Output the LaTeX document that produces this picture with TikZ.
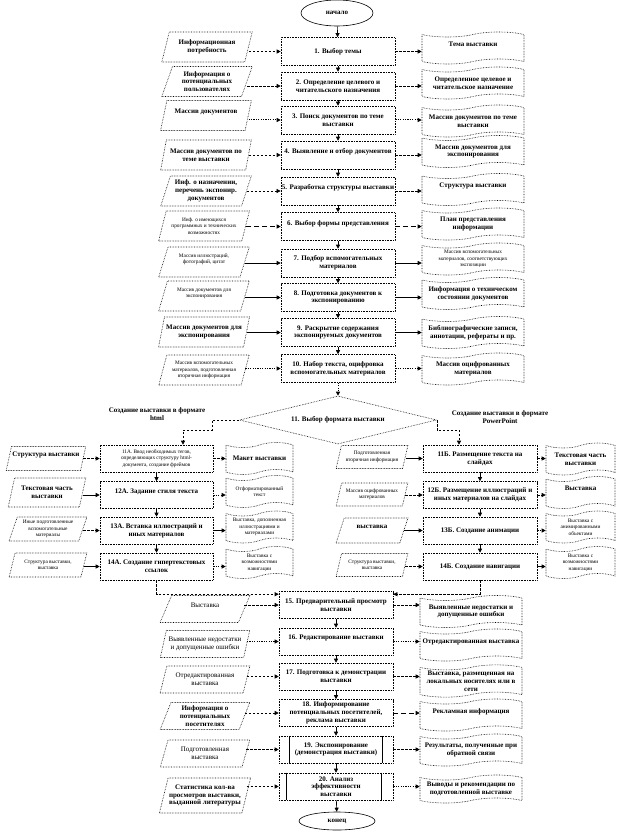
\documentclass[tikz,border=0pt]{standalone}
\usepackage{fontspec}
\setmainfont{Liberation Serif}
\usetikzlibrary{shapes.geometric,shapes.symbols,arrows.meta}
\tikzset{
  every node/.style={font=\bfseries\fontsize{7}{7.8}\selectfont},
  sm/.style={font=\fontsize{5.3}{6.4}\selectfont},
  shp/.style={draw, densely dotted, line width=0.6pt},
  proc/.style={shp, rectangle, minimum width=114pt, minimum height=28pt, inner sep=1pt, align=center},
  inp/.style={shp, trapezium, trapezium left angle=70, trapezium right angle=110, trapezium stretches=true, minimum width=91pt, minimum height=30pt, inner sep=1pt, align=center},
  docu/.style={shp, tape, tape bend top=in and out, tape bend bottom=in and out, tape bend height=5pt, minimum width=102pt, minimum height=32pt, inner sep=1pt, align=center},
  term/.style={draw, ellipse, line width=0.6pt, inner sep=1pt},
  arr/.style={-{Triangle[length=4pt,width=4pt]}, line width=0.6pt},
  cdash/.style={arr, dash pattern=on 2.5pt off 1.5pt},
  cdot/.style={arr, dash pattern=on 1.2pt off 1.2pt, line width=1pt},
  clong/.style={arr, dash pattern=on 5pt off 3pt},
  csol/.style={arr},
}
\begin{document}
\begin{tikzpicture}[x=1pt,y=-1pt]
\fill[white] (0,0) rectangle (617,832);
\useasboundingbox (0,0) rectangle (617,832);
% terminal
\node[term, minimum width=72pt, minimum height=26pt] (start) at (337,13) {начало};
% central column 1-10
\node[proc] (p1) at (338,51.5) {1. Выбор темы};
\node[proc] (p2) at (338,86) {2. Определение целевого и\\читательского назначения};
\node[proc] (p3) at (338,120) {3. Поиск документов по теме\\выставки};
\node[proc] (p4) at (338,155) {4. Выявление и отбор документов\\\mbox{}};
\node[proc] (p5) at (338,191) {5. Разработка структуры выставки\\\mbox{}};
\node[proc] (p6) at (338,226.5) {6. Выбор формы представления\\\mbox{}};
\node[proc] (p7) at (338,263) {7. Подбор вспомогательных\\материалов};
\node[proc] (p8) at (338,297.5) {8. Подготовка документов к\\экспонированию};
\node[proc] (p9) at (338,332.5) {9. Раскрытие содержания\\экспонируемых документов};
\node[proc] (p10) at (338,368.5) {10. Набор текста, оцифровка\\вспомогательных материалов};
% inputs 1-10
\node[inp] (i1) at (207,47) {Информационная\\потребность};
\node[inp] (i2) at (207,81.5) {Информация о\\потенциальных\\пользователях};
\node[inp] (i3) at (206,115.5) {Массив документов\\\mbox{}};
\node[inp] (i4) at (206,155) {Массив документов по\\теме выставки};
\node[inp] (i5) at (206,191) {Инф. о назначении,\\перечень экспонир.\\документов};
\node[inp, sm] (i6) at (204,226) {Инф. о имеющихся\\программных и технических\\возможностях};
\node[inp, sm] (i7) at (204,262) {Массив иллюстраций,\\фотографий, цитат\\\mbox{}};
\node[inp, sm] (i8) at (204,296) {Массив документов для\\экспонирования\\\mbox{}};
\node[inp] (i9) at (204,332) {Массив документов для\\экспонирования};
\node[inp, sm] (i10) at (204,370) {Массив вспомогательных\\материалов, подготовленная\\вторичная информация};
% outputs 1-10
\node[docu] (d1) at (473,48) {Тема выставки\\\mbox{}};
\node[docu] (d2) at (473,83) {Определенное целевое и\\читательское назначение};
\node[docu] (d3) at (473,121) {Массив документов по теме\\выставки};
\node[docu] (d4) at (473,151.5) {Массив документов для\\экспонирования};
\node[docu] (d5) at (473,189.5) {Структура выставки\\\mbox{}};
\node[docu] (d6) at (473,224) {План представления\\информации};
\node[docu, sm] (d7) at (473,259) {Массив вспомогательных\\материалов, соответствующих\\экспозиции};
\node[docu] (d8) at (473,293.5) {Информация о техническом\\состоянии документов};
\node[docu] (d9) at (473,332.5) {Библиографические записи,\\аннотации, рефераты и пр.};
\node[docu] (d10) at (473,369) {Массив оцифрованных\\материалов};
% connectors 1-10
\draw[cdash] (p1.west -| i1.east) -- (p1.west);
\draw[cdash] (p2.west -| i2.east) -- (p2.west);
\draw[cdot] (p3.west -| i3.east) -- (p3.west);
\draw[cdash] (p4.west -| i4.east) -- (p4.west);
\draw[cdash] (p5.west -| i5.east) -- (p5.west);
\draw[clong] (p6.west -| i6.east) -- (p6.west);
\draw[csol] (p7.west -| i7.east) -- (p7.west);
\draw[csol] (p8.west -| i8.east) -- (p8.west);
\draw[csol] (p9.west -| i9.east) -- (p9.west);
\draw[cdot] (p10.west -| i10.east) -- (p10.west);
\draw[cdash] (p1.east) -- (p1.east -| d1.west);
\draw[cdash] (p2.east) -- (p2.east -| d2.west);
\draw[cdot] (p3.east) -- (p3.east -| d3.west);
\draw[cdash] (p4.east) -- (p4.east -| d4.west);
\draw[cdash] (p5.east) -- (p5.east -| d5.west);
\draw[clong] (p6.east) -- (p6.east -| d6.west);
\draw[csol] (p7.east) -- (p7.east -| d7.west);
\draw[csol] (p8.east) -- (p8.east -| d8.west);
\draw[csol] (p9.east) -- (p9.east -| d9.west);
\draw[cdot] (p10.east) -- (p10.east -| d10.west);
% vertical flow 1-10
\draw[arr] (start) -- (p1);
\foreach \a/\b in {p1/p2,p2/p3,p3/p4,p4/p5,p5/p6,p6/p7,p7/p8,p8/p9,p9/p10} \draw[arr] (\a) -- (\b);
% diamond
\node[shp, diamond, aspect=4.1, minimum width=197pt, minimum height=48pt, inner sep=0pt] (dia) at (338,420) {11. Выбор формата выставки};
\draw[cdot] (p10) -- (dia);
\node (lhtml) at (157,414) [align=center] {Создание выставки в формате\\html};
\node (lppt) at (500,417) [align=center] {Создание выставки в формате\\PowerPoint};
% branch A (html)
\node[proc, minimum width=113pt, minimum height=27pt, sm] (a11) at (156.5,458.5) {11А. Ввод необходимых тегов,\\определяющих структуру html-\\документа, создание фреймов};
\node[proc, minimum width=113pt, minimum height=27pt] (a12) at (156.5,495) {12А. Задание стиля текста\\\mbox{}};
\node[proc, minimum width=113pt, minimum height=27pt] (a13) at (156.5,530.5) {13А. Вставка иллюстраций и\\иных материалов};
\node[proc, minimum width=113pt, minimum height=27pt] (a14) at (156.5,566.5) {14А. Создание гипертекстовых\\ссылок};
\node[inp, minimum width=78pt, minimum height=24pt] (ai11) at (46,458.5) {Структура выставки\\\mbox{}};
\node[inp, minimum width=78pt, minimum height=29pt] (ai12) at (47,492.5) {Текстовая часть\\выставки};
\node[inp, sm, minimum width=78pt, minimum height=24pt] (ai13) at (48,529) {Иные подготовленные\\вспомогательные\\материалы};
\node[inp, sm, minimum width=78pt, minimum height=24pt] (ai14) at (48,565) {Структура выставки,\\выставка};
\node[docu, minimum width=67pt] (ad11) at (259.5,458.5) {Макет выставки};
\node[docu, sm, minimum width=67pt] (ad12) at (259.5,491.5) {Отформатированный\\текст};
\node[docu, sm, minimum width=67pt] (ad13) at (259.5,527) {Выставка, дополненная\\иллюстрациями и\\материалами};
\node[docu, sm, minimum width=67pt] (ad14) at (259.5,562.5) {Выставка с\\возможностями\\навигации};
% branch B (PowerPoint)
\node[proc, minimum width=114pt, minimum height=27pt] (v11) at (480,458.5) {11Б. Размещение текста на\\слайдах};
\node[proc, minimum width=114pt, minimum height=27pt] (v12) at (480,495) {12Б. Размещение иллюстраций и\\иных материалов на слайдах};
\node[proc, minimum width=114pt, minimum height=27pt] (v13) at (480,530.5) {13Б. Создание анимации};
\node[proc, minimum width=114pt, minimum height=27pt] (v14) at (480,566.5) {14Б. Создание навигации};
\node[inp, sm, minimum width=72pt, minimum height=23pt] (vi11) at (372,457) {Подготовленная\\вторичная информация};
\node[inp, sm, minimum width=72pt, minimum height=23pt] (vi12) at (372,494.5) {Массив оцифрованных\\материалов};
\node[inp, minimum width=72pt, minimum height=25pt] (vi13) at (372,530.5) {выставка\\\mbox{}};
\node[inp, sm, minimum width=72pt, minimum height=23pt] (vi14) at (372,565) {Структура выставки,\\выставка};
\node[docu, minimum width=69pt] (vd11) at (580.5,459) {Текстовая часть\\выставки};
\node[docu, minimum width=69pt] (vd12) at (580.5,492.5) {Выставка\\\mbox{}};
\node[docu, sm, minimum width=69pt] (vd13) at (580.5,527) {Выставка с\\анимированными\\объектами};
\node[docu, sm, minimum width=69pt] (vd14) at (580.5,562.5) {Выставка с\\возможностями\\навигации};
% branch connectors
\coordinate (ka) at (212,430);
\coordinate (ja) at (183,430);
\coordinate (kb) at (459,430);
\draw[cdash] (dia.west) -| (ka) -- (ja) -- (ja |- a11.north);
\draw[cdash] (dia.east) |- (kb) -- (kb |- v11.north);
\foreach \a/\b in {a11/a12,a12/a13,a13/a14,v11/v12,v12/v13,v13/v14} \draw[arr] (\a) -- (\b);
\draw[cdash] (a11.west -| ai11.east) -- (a11.west);
\draw[csol] (a12.west -| ai12.east) -- (a12.west);
\draw[cdash] (a13.west -| ai13.east) -- (a13.west);
\draw[csol] (a14.west -| ai14.east) -- (a14.west);
\draw[cdash] (a11.east) -- (a11.east -| ad11.west);
\draw[cdot] (a12.east) -- (a12.east -| ad12.west);
\draw[csol] (a13.east) -- (a13.east -| ad13.west);
\draw[cdot] (a14.east) -- (a14.east -| ad14.west);
\draw[csol] (v11.west -| vi11.east) -- (v11.west);
\draw[cdash] (v12.west -| vi12.east) -- (v12.west);
\draw[csol] (v13.west -| vi13.east) -- (v13.west);
\draw[cdash] (v14.west -| vi14.east) -- (v14.west);
\draw[cdash] (v11.east) -- (v11.east -| vd11.west);
\draw[cdash] (v12.east) -- (v12.east -| vd12.west);
\draw[cdot] (v13.east) -- (v13.east -| vd13.west);
\draw[csol] (v14.east) -- (v14.east -| vd14.west);
% rows 15-20
\node[proc, minimum height=27pt] (p15) at (336,605) {15. Предварительный просмотр\\выставки};
\node[proc, minimum height=27pt] (p16) at (336,641.5) {16. Редактирование выставки\\\mbox{}};
\node[proc, minimum height=27pt] (p17) at (336,676.5) {17. Подготовка к демонстрации\\выставки};
\node[proc, minimum height=27pt] (p18) at (336,713) {18. Информирование\\потенциальных посетителей,\\реклама выставки};
\node[proc, minimum height=27pt] (p19) at (336,749.5) {19. Экспонирование\\(демонстрация выставки)};
\node[proc, minimum height=27pt] (p20) at (336,786.5) {20. Анализ\\эффективности\\выставки};
\draw[line width=0.6pt] ([xshift=11pt]p19.north west) -- ([xshift=11pt]p19.south west);
\draw[line width=0.6pt] ([xshift=-11pt]p19.north east) -- ([xshift=-11pt]p19.south east);
\draw[line width=0.6pt] ([xshift=8pt]p20.north west) -- ([xshift=8pt]p20.south west);
\draw[line width=0.6pt] ([xshift=-12pt]p20.north east) -- ([xshift=-12pt]p20.south east);
\node[inp, minimum width=90pt, minimum height=27pt, font=\fontsize{7}{7.8}\selectfont] (i15) at (205,609) {Выставка\\\mbox{}};
\node[inp, minimum width=90pt, minimum height=27pt, font=\fontsize{7}{7.8}\selectfont] (i16) at (205,644) {Выявленные недостатки\\и допущенные ошибки};
\node[inp, minimum width=90pt, minimum height=27pt, font=\fontsize{7}{7.8}\selectfont] (i17) at (205,679.5) {Отредактированная\\выставка};
\node[inp, minimum width=90pt, minimum height=27pt] (i18) at (205,716) {Информация о\\потенциальных\\посетителях};
\node[inp, minimum width=90pt, minimum height=27pt, font=\fontsize{7}{7.8}\selectfont] (i19) at (205,753.5) {Подготовленная\\выставка};
\node[inp, minimum width=90pt, minimum height=35pt] (i20) at (205,795.5) {Статистика кол-ва\\просмотров выставки,\\выданной литературы};
\node[docu] (d15) at (471,611.5) {Выявленные недостатки и\\допущенные ошибки};
\node[docu] (d16) at (471,645) {Отредактированная выставка\\\mbox{}};
\node[docu] (d17) at (471,681) {Выставка, размещенная на\\локальных носителях или в\\сети};
\node[docu] (d18) at (471,715) {Рекламная информация\\\mbox{}};
\node[docu] (d19) at (471,750) {Результаты, полученные при\\обратной связи};
\node[docu, minimum height=28pt] (d20) at (471,789) {Выводы и рекомендации по\\подготовленной выставке};
\node[term, minimum width=76pt, minimum height=18pt] (end) at (337,821) {конец};
\draw[cdash] (a14.south) |- ([yshift=-3pt]p15.north west);
\draw[cdash] (v14.south) |- ([yshift=-3pt]p15.north east);
\foreach \a/\b in {p15/p16,p16/p17,p17/p18,p18/p19,p19/p20,p20/end} \draw[arr] (\a) -- (\b);
\draw[cdash] (p15.west -| i15.east) -- (p15.west);
\draw[cdot] (p16.west -| i16.east) -- (p16.west);
\draw[cdash] (p17.west -| i17.east) -- (p17.west);
\draw[cdash] (p18.west -| i18.east) -- (p18.west);
\draw[cdash] (p19.west -| i19.east) -- (p19.west);
\draw[cdash] (p20.west -| i20.east) -- (p20.west);
\draw[cdash] (p15.east) -- (p15.east -| d15.west);
\draw[cdot] (p16.east) -- (p16.east -| d16.west);
\draw[cdash] (p17.east) -- (p17.east -| d17.west);
\draw[clong] (p18.east) -- (p18.east -| d18.west);
\draw[cdash] (p19.east) -- (p19.east -| d19.west);
\draw[cdot] (p20.east) -- (p20.east -| d20.west);
\end{tikzpicture}
\end{document}
